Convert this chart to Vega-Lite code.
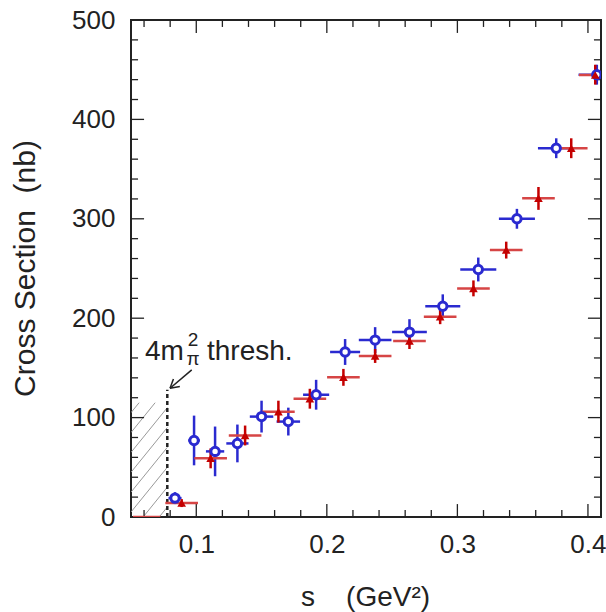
{
  "$schema": "https://vega.github.io/schema/vega-lite/v6.json",
  "width": 470,
  "height": 497,
  "autosize": {"type": "none"},
  "padding": {"left": 131, "top": 20, "right": 5, "bottom": 95},
  "config": {
    "font": "Liberation Sans",
    "view": {"stroke": "#222", "strokeWidth": 2},
    "axis": {"labelColor": "#222", "titleColor": "#222", "domain": false, "grid": false, "ticks": false, "labelOverlap": false, "labelFlush": false}
  },
  "datasets": {
    "blue": [
      {"s": 0.0837, "xlo": 0.0787, "xhi": 0.0887, "y": 19, "ylo": 13, "yhi": 25},
      {"s": 0.0983, "xlo": 0.0938, "xhi": 0.1028, "y": 77, "ylo": 52, "yhi": 102},
      {"s": 0.1144, "xlo": 0.1074, "xhi": 0.1214, "y": 66, "ylo": 41, "yhi": 91},
      {"s": 0.1315, "xlo": 0.1230, "xhi": 0.1400, "y": 74, "ylo": 55, "yhi": 93},
      {"s": 0.150, "xlo": 0.141, "xhi": 0.159, "y": 101, "ylo": 85, "yhi": 117},
      {"s": 0.1705, "xlo": 0.1615, "xhi": 0.1795, "y": 96, "ylo": 82, "yhi": 110},
      {"s": 0.1918, "xlo": 0.1818, "xhi": 0.2018, "y": 123, "ylo": 108, "yhi": 138},
      {"s": 0.214, "xlo": 0.2025, "xhi": 0.2255, "y": 166, "ylo": 153, "yhi": 179},
      {"s": 0.237, "xlo": 0.2245, "xhi": 0.2495, "y": 178, "ylo": 165, "yhi": 191},
      {"s": 0.2633, "xlo": 0.2500, "xhi": 0.2766, "y": 186, "ylo": 173, "yhi": 199},
      {"s": 0.2888, "xlo": 0.2754, "xhi": 0.3022, "y": 212, "ylo": 200, "yhi": 224},
      {"s": 0.316, "xlo": 0.3022, "xhi": 0.3298, "y": 249, "ylo": 237, "yhi": 261},
      {"s": 0.3456, "xlo": 0.3318, "xhi": 0.3594, "y": 300, "ylo": 290, "yhi": 310},
      {"s": 0.3757, "xlo": 0.3617, "xhi": 0.3897, "y": 371, "ylo": 361, "yhi": 381},
      {"s": 0.4068, "xlo": 0.3928, "xhi": 0.4208, "y": 445, "ylo": 435, "yhi": 455}
    ],
    "red": [
      {"s": 0.062, "xlo": 0.0515, "xhi": 0.0725, "y": 0, "ylo": 0, "yhi": 0},
      {"s": 0.0888, "xlo": 0.0763, "xhi": 0.1013, "y": 14, "ylo": 10, "yhi": 18},
      {"s": 0.111, "xlo": 0.0985, "xhi": 0.1235, "y": 59, "ylo": 49, "yhi": 69},
      {"s": 0.1374, "xlo": 0.1249, "xhi": 0.1499, "y": 82, "ylo": 72, "yhi": 92},
      {"s": 0.1629, "xlo": 0.1504, "xhi": 0.1754, "y": 106, "ylo": 95, "yhi": 117},
      {"s": 0.187, "xlo": 0.1745, "xhi": 0.1995, "y": 119, "ylo": 109, "yhi": 129},
      {"s": 0.2127, "xlo": 0.2002, "xhi": 0.2252, "y": 140.5, "ylo": 132, "yhi": 149},
      {"s": 0.237, "xlo": 0.2245, "xhi": 0.2495, "y": 162, "ylo": 155, "yhi": 169},
      {"s": 0.2633, "xlo": 0.2508, "xhi": 0.2758, "y": 177, "ylo": 169, "yhi": 185},
      {"s": 0.2868, "xlo": 0.2743, "xhi": 0.2993, "y": 201.5, "ylo": 194, "yhi": 209},
      {"s": 0.3123, "xlo": 0.2998, "xhi": 0.3248, "y": 230, "ylo": 222, "yhi": 238},
      {"s": 0.3374, "xlo": 0.3249, "xhi": 0.3499, "y": 268.6, "ylo": 260, "yhi": 277},
      {"s": 0.3621, "xlo": 0.3496, "xhi": 0.3746, "y": 320.6, "ylo": 309, "yhi": 332},
      {"s": 0.3872, "xlo": 0.3747, "xhi": 0.3997, "y": 371, "ylo": 361, "yhi": 381},
      {"s": 0.4056, "xlo": 0.3931, "xhi": 0.4181, "y": 444.7, "ylo": 435, "yhi": 455}
    ],
    "hatch": [
      {"x1": 0.0716, "y1": 0, "x2": 0.0778, "y2": 10},
      {"x1": 0.0593, "y1": 0, "x2": 0.0778, "y2": 30},
      {"x1": 0.05, "y1": 5, "x2": 0.0778, "y2": 50},
      {"x1": 0.05, "y1": 25, "x2": 0.0778, "y2": 70},
      {"x1": 0.05, "y1": 45, "x2": 0.0778, "y2": 90},
      {"x1": 0.05, "y1": 65, "x2": 0.0778, "y2": 110},
      {"x1": 0.05, "y1": 85, "x2": 0.0685, "y2": 115},
      {"x1": 0.05, "y1": 105, "x2": 0.0562, "y2": 115}
    ],
    "ticks": [
      {"x1": 0.1, "x2": 0.1, "y1": 0, "y2": 13}, {"x1": 0.2, "x2": 0.2, "y1": 0, "y2": 13}, {"x1": 0.3, "x2": 0.3, "y1": 0, "y2": 13}, {"x1": 0.4, "x2": 0.4, "y1": 0, "y2": 13},
      {"x1": 0.1, "x2": 0.1, "y1": 500, "y2": 487}, {"x1": 0.2, "x2": 0.2, "y1": 500, "y2": 487}, {"x1": 0.3, "x2": 0.3, "y1": 500, "y2": 487}, {"x1": 0.4, "x2": 0.4, "y1": 500, "y2": 487},
      {"x1": 0.06, "x2": 0.06, "y1": 0, "y2": 7}, {"x1": 0.08, "x2": 0.08, "y1": 0, "y2": 7}, {"x1": 0.12, "x2": 0.12, "y1": 0, "y2": 7}, {"x1": 0.14, "x2": 0.14, "y1": 0, "y2": 7},
      {"x1": 0.16, "x2": 0.16, "y1": 0, "y2": 7}, {"x1": 0.18, "x2": 0.18, "y1": 0, "y2": 7}, {"x1": 0.22, "x2": 0.22, "y1": 0, "y2": 7}, {"x1": 0.24, "x2": 0.24, "y1": 0, "y2": 7},
      {"x1": 0.26, "x2": 0.26, "y1": 0, "y2": 7}, {"x1": 0.28, "x2": 0.28, "y1": 0, "y2": 7}, {"x1": 0.32, "x2": 0.32, "y1": 0, "y2": 7}, {"x1": 0.34, "x2": 0.34, "y1": 0, "y2": 7},
      {"x1": 0.36, "x2": 0.36, "y1": 0, "y2": 7}, {"x1": 0.38, "x2": 0.38, "y1": 0, "y2": 7},
      {"x1": 0.06, "x2": 0.06, "y1": 500, "y2": 493}, {"x1": 0.08, "x2": 0.08, "y1": 500, "y2": 493}, {"x1": 0.12, "x2": 0.12, "y1": 500, "y2": 493}, {"x1": 0.14, "x2": 0.14, "y1": 500, "y2": 493},
      {"x1": 0.16, "x2": 0.16, "y1": 500, "y2": 493}, {"x1": 0.18, "x2": 0.18, "y1": 500, "y2": 493}, {"x1": 0.22, "x2": 0.22, "y1": 500, "y2": 493}, {"x1": 0.24, "x2": 0.24, "y1": 500, "y2": 493},
      {"x1": 0.26, "x2": 0.26, "y1": 500, "y2": 493}, {"x1": 0.28, "x2": 0.28, "y1": 500, "y2": 493}, {"x1": 0.32, "x2": 0.32, "y1": 500, "y2": 493}, {"x1": 0.34, "x2": 0.34, "y1": 500, "y2": 493},
      {"x1": 0.36, "x2": 0.36, "y1": 500, "y2": 493}, {"x1": 0.38, "x2": 0.38, "y1": 500, "y2": 493},
      {"x1": 0.05, "x2": 0.06, "y1": 100, "y2": 100}, {"x1": 0.05, "x2": 0.06, "y1": 200, "y2": 200}, {"x1": 0.05, "x2": 0.06, "y1": 300, "y2": 300}, {"x1": 0.05, "x2": 0.06, "y1": 400, "y2": 400},
      {"x1": 0.41, "x2": 0.40, "y1": 100, "y2": 100}, {"x1": 0.41, "x2": 0.40, "y1": 200, "y2": 200}, {"x1": 0.41, "x2": 0.40, "y1": 300, "y2": 300}, {"x1": 0.41, "x2": 0.40, "y1": 400, "y2": 400},
      {"x1": 0.05, "x2": 0.0554, "y1": 20, "y2": 20}, {"x1": 0.05, "x2": 0.0554, "y1": 40, "y2": 40}, {"x1": 0.05, "x2": 0.0554, "y1": 60, "y2": 60}, {"x1": 0.05, "x2": 0.0554, "y1": 80, "y2": 80},
      {"x1": 0.05, "x2": 0.0554, "y1": 120, "y2": 120}, {"x1": 0.05, "x2": 0.0554, "y1": 140, "y2": 140}, {"x1": 0.05, "x2": 0.0554, "y1": 160, "y2": 160}, {"x1": 0.05, "x2": 0.0554, "y1": 180, "y2": 180},
      {"x1": 0.05, "x2": 0.0554, "y1": 220, "y2": 220}, {"x1": 0.05, "x2": 0.0554, "y1": 240, "y2": 240}, {"x1": 0.05, "x2": 0.0554, "y1": 260, "y2": 260}, {"x1": 0.05, "x2": 0.0554, "y1": 280, "y2": 280},
      {"x1": 0.05, "x2": 0.0554, "y1": 320, "y2": 320}, {"x1": 0.05, "x2": 0.0554, "y1": 340, "y2": 340}, {"x1": 0.05, "x2": 0.0554, "y1": 360, "y2": 360}, {"x1": 0.05, "x2": 0.0554, "y1": 380, "y2": 380},
      {"x1": 0.05, "x2": 0.0554, "y1": 420, "y2": 420}, {"x1": 0.05, "x2": 0.0554, "y1": 440, "y2": 440}, {"x1": 0.05, "x2": 0.0554, "y1": 460, "y2": 460}, {"x1": 0.05, "x2": 0.0554, "y1": 480, "y2": 480},
      {"x1": 0.41, "x2": 0.4046, "y1": 20, "y2": 20}, {"x1": 0.41, "x2": 0.4046, "y1": 40, "y2": 40}, {"x1": 0.41, "x2": 0.4046, "y1": 60, "y2": 60}, {"x1": 0.41, "x2": 0.4046, "y1": 80, "y2": 80},
      {"x1": 0.41, "x2": 0.4046, "y1": 120, "y2": 120}, {"x1": 0.41, "x2": 0.4046, "y1": 140, "y2": 140}, {"x1": 0.41, "x2": 0.4046, "y1": 160, "y2": 160}, {"x1": 0.41, "x2": 0.4046, "y1": 180, "y2": 180},
      {"x1": 0.41, "x2": 0.4046, "y1": 220, "y2": 220}, {"x1": 0.41, "x2": 0.4046, "y1": 240, "y2": 240}, {"x1": 0.41, "x2": 0.4046, "y1": 260, "y2": 260}, {"x1": 0.41, "x2": 0.4046, "y1": 280, "y2": 280},
      {"x1": 0.41, "x2": 0.4046, "y1": 320, "y2": 320}, {"x1": 0.41, "x2": 0.4046, "y1": 340, "y2": 340}, {"x1": 0.41, "x2": 0.4046, "y1": 360, "y2": 360}, {"x1": 0.41, "x2": 0.4046, "y1": 380, "y2": 380},
      {"x1": 0.41, "x2": 0.4046, "y1": 420, "y2": 420}, {"x1": 0.41, "x2": 0.4046, "y1": 440, "y2": 440}, {"x1": 0.41, "x2": 0.4046, "y1": 460, "y2": 460}, {"x1": 0.41, "x2": 0.4046, "y1": 480, "y2": 480}
    ],
    "thresh": [{"x": 0.0778, "y1": 0, "y2": 128}],
    "arrow": [
      {"x1": 0.0965, "y1": 148, "x2": 0.0799, "y2": 129.5},
      {"x1": 0.0799, "y1": 129.5, "x2": 0.0874, "y2": 131.3},
      {"x1": 0.0799, "y1": 129.5, "x2": 0.0825, "y2": 138.9}
    ],
    "bigText": [
      {"x": 0.0607, "y": 158, "label": "4m"},
      {"x": 0.1082, "y": 158, "label": "thresh."}
    ],
    "smallText": [
      {"x": 0.0975, "y": 178, "label": "2"},
      {"x": 0.0975, "y": 159, "label": "π"}
    ]
  },
  "resolve": {"axis": {"x": "independent", "y": "independent"}},
  "layer": [
    {
      "data": {"name": "hatch"},
      "mark": {"type": "rule", "color": "#999", "strokeWidth": 1, "clip": true},
      "encoding": {
        "x": {"field": "x1", "type": "quantitative",
          "scale": {"domain": [0.05, 0.41], "nice": false, "zero": false},
          "axis": {"orient": "bottom", "values": [0.1, 0.2, 0.3, 0.4], "format": ".1f",
            "labelFontSize": 26, "labelPadding": 14,
            "title": "s\u00a0\u00a0\u00a0\u00a0(GeV²)", "titleFontSize": 28, "titleFontWeight": "normal",
            "titleX": 234, "titleY": 80, "titleBaseline": "middle"}},
        "y": {"field": "y1", "type": "quantitative",
          "scale": {"domain": [0, 500], "nice": false},
          "axis": {"orient": "left", "values": [0, 100, 200, 300, 400, 500],
            "labelFontSize": 26, "labelPadding": 16,
            "title": "Cross Section\u00a0\u00a0(nb)", "titleFontSize": 30, "titleFontWeight": "normal",
            "titleX": -106, "titleY": 248, "titleBaseline": "middle", "titleAngle": -90}},
        "x2": {"field": "x2"},
        "y2": {"field": "y2"}
      }
    },
    {
      "data": {"name": "ticks"},
      "mark": {"type": "rule", "color": "#222", "strokeWidth": 1.3},
      "encoding": {
        "x": {"field": "x1", "type": "quantitative", "axis": null},
        "y": {"field": "y1", "type": "quantitative", "axis": null},
        "x2": {"field": "x2"},
        "y2": {"field": "y2"}
      }
    },
    {
      "data": {"name": "thresh"},
      "mark": {"type": "rule", "color": "#222", "strokeWidth": 2.5, "strokeDash": [4, 3]},
      "encoding": {
        "x": {"field": "x", "type": "quantitative", "axis": null},
        "y": {"field": "y1", "type": "quantitative", "axis": null},
        "y2": {"field": "y2"}
      }
    },
    {
      "data": {"name": "arrow"},
      "mark": {"type": "rule", "color": "#222", "strokeWidth": 1.5},
      "encoding": {
        "x": {"field": "x1", "type": "quantitative", "axis": null},
        "y": {"field": "y1", "type": "quantitative", "axis": null},
        "x2": {"field": "x2"},
        "y2": {"field": "y2"}
      }
    },
    {
      "data": {"name": "blue"},
      "mark": {"type": "rule", "color": "#2a2ad0", "strokeWidth": 2.5, "clip": true},
      "encoding": {
        "x": {"field": "xlo", "type": "quantitative", "axis": null},
        "x2": {"field": "xhi"},
        "y": {"field": "y", "type": "quantitative", "axis": null}
      }
    },
    {
      "data": {"name": "blue"},
      "mark": {"type": "rule", "color": "#2a2ad0", "strokeWidth": 2.5, "clip": true},
      "encoding": {
        "x": {"field": "s", "type": "quantitative", "axis": null},
        "y": {"field": "ylo", "type": "quantitative", "axis": null},
        "y2": {"field": "yhi"}
      }
    },
    {
      "data": {"name": "red"},
      "mark": {"type": "rule", "color": "#d64545", "strokeWidth": 2.5, "clip": true},
      "encoding": {
        "x": {"field": "xlo", "type": "quantitative", "axis": null},
        "x2": {"field": "xhi"},
        "y": {"field": "y", "type": "quantitative", "axis": null}
      }
    },
    {
      "data": {"name": "red"},
      "transform": [{"filter": "datum.y > 0"}],
      "mark": {"type": "rule", "color": "#c40000", "strokeWidth": 2.5, "clip": true},
      "encoding": {
        "x": {"field": "s", "type": "quantitative", "axis": null},
        "y": {"field": "ylo", "type": "quantitative", "axis": null},
        "y2": {"field": "yhi"}
      }
    },
    {
      "data": {"name": "blue"},
      "mark": {"type": "point", "shape": "circle", "filled": false, "fill": "white", "fillOpacity": 1, "color": "#2a2ad0", "strokeWidth": 3, "size": 70, "opacity": 1, "clip": true},
      "encoding": {
        "x": {"field": "s", "type": "quantitative", "axis": null},
        "y": {"field": "y", "type": "quantitative", "axis": null}
      }
    },
    {
      "data": {"name": "red"},
      "transform": [{"filter": "datum.y > 0"}],
      "mark": {"type": "point", "shape": "triangle-up", "filled": true, "color": "#c40000", "size": 75, "opacity": 1, "clip": true},
      "encoding": {
        "x": {"field": "s", "type": "quantitative", "axis": null},
        "y": {"field": "y", "type": "quantitative", "axis": null}
      }
    },
    {
      "data": {"name": "bigText"},
      "mark": {"type": "text", "align": "left", "baseline": "alphabetic", "fontSize": 28, "color": "#222"},
      "encoding": {
        "x": {"field": "x", "type": "quantitative", "axis": null},
        "y": {"field": "y", "type": "quantitative", "axis": null},
        "text": {"field": "label"}
      }
    },
    {
      "data": {"name": "smallText"},
      "mark": {"type": "text", "align": "center", "baseline": "middle", "fontSize": 19, "color": "#222"},
      "encoding": {
        "x": {"field": "x", "type": "quantitative", "axis": null},
        "y": {"field": "y", "type": "quantitative", "axis": null},
        "text": {"field": "label"}
      }
    }
  ]
}
